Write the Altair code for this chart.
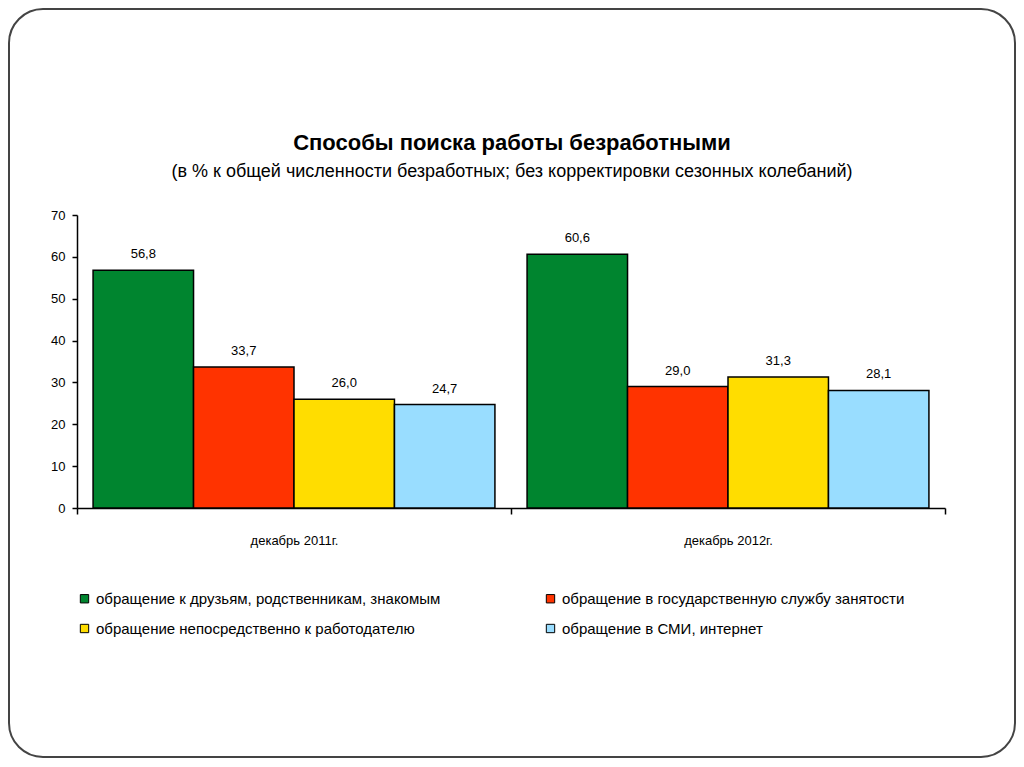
import altair as alt
import pandas as pd

periods = ["декабрь 2011г.", "декабрь 2012г."]
methods = [
    "обращение к друзьям, родственникам, знакомым",
    "обращение в государственную службу занятости",
    "обращение непосредственно к работодателю",
    "обращение в СМИ, интернет",
]
values_2011 = [56.8, 33.7, 26.0, 24.7]
values_2012 = [60.6, 29.0, 31.3, 28.1]
colors = ["#00852F", "#FF3300", "#FFDD00", "#99DDFF"]
title_text = "Способы поиска работы безработными"
subtitle_text = "(в  % к общей численности безработных; без корректировки сезонных колебаний)"

rows = []
for period, vals in zip(periods, [values_2011, values_2012]):
    for m, v in zip(methods, vals):
        rows.append({"period": period, "method": m, "value": v,
                     "label": f"{v:.1f}".replace(".", ",")})
df = pd.DataFrame(rows)

# legend is filled column by column: reorder so rows read green/red, yellow/blue
legend_order = [0, 2, 1, 3]
legend_domain = [methods[i] for i in legend_order]
legend_range = [colors[i] for i in legend_order]

FONT = "Liberation Sans"

x_enc = alt.X("period:N", sort=periods,
              scale=alt.Scale(paddingInner=0, paddingOuter=0),
              axis=alt.Axis(title=None, labelAngle=0, tickBand="extent",
                            domainColor="black", tickColor="black", tickSize=6,
                            domainWidth=1.5, tickWidth=1.5,
                            labelFontSize=13, labelColor="black", labelFont=FONT,
                            labelPadding=20))
xo_enc = alt.XOffset("method:N", sort=methods,
                     scale=alt.Scale(paddingOuter=0.16, paddingInner=0))
y_enc = alt.Y("value:Q", scale=alt.Scale(domain=[0, 70], nice=False),
              axis=alt.Axis(title=None, values=list(range(0, 71, 10)), grid=False,
                            domainColor="black", tickColor="black", tickSize=5,
                            domainWidth=1.5, tickWidth=1.5,
                            labelFontSize=13, labelColor="black", labelFont=FONT,
                            labelPadding=7))

bars = alt.Chart(df).mark_bar(stroke="black", strokeWidth=1.5).encode(
    x=x_enc, xOffset=xo_enc, y=y_enc,
    color=alt.Color("method:N",
                    scale=alt.Scale(domain=legend_domain, range=legend_range),
                    legend=alt.Legend(title=None, orient="none", legendX=0, legendY=376,
                                      columns=2, columnPadding=102, rowPadding=14,
                                      symbolType="square", symbolSize=70,
                                      symbolStrokeColor="black", symbolStrokeWidth=1,
                                      labelFontSize=15, labelFont=FONT, labelColor="black",
                                      labelLimit=500)),
)

labels = alt.Chart(df).mark_text(dy=-16, fontSize=13, font=FONT, color="black").encode(
    x=alt.X("period:N", sort=periods), xOffset=alt.XOffset("method:N", sort=methods),
    y="value:Q", text="label:N",
)

one = alt.Data(values=[{"f": 1}])

frame = alt.Chart(one).mark_rect(
    filled=False, stroke="#444444", strokeWidth=2, cornerRadius=34
).encode(x=alt.value(-68), x2=alt.value(938), y=alt.value(-206), y2=alt.value(542))

title = alt.Chart(one).mark_text(
    fontSize=22, fontWeight="bold", font=FONT, color="black", baseline="middle"
).encode(x=alt.value(435), y=alt.value(-72), text=alt.value(title_text))

subtitle = alt.Chart(one).mark_text(
    fontSize=18, font=FONT, color="black", baseline="middle"
).encode(x=alt.value(435), y=alt.value(-43), text=alt.value(subtitle_text))

chart = alt.layer(frame, title, subtitle, bars, labels).properties(
    width=868, height=293,
    autosize=alt.AutoSizeParams(type="none"),
    padding={"left": 69, "top": 207, "right": 71, "bottom": 251},
).configure_view(stroke=None)

chart.save("out.html", embed_options={"renderer": "svg", "actions": False})
